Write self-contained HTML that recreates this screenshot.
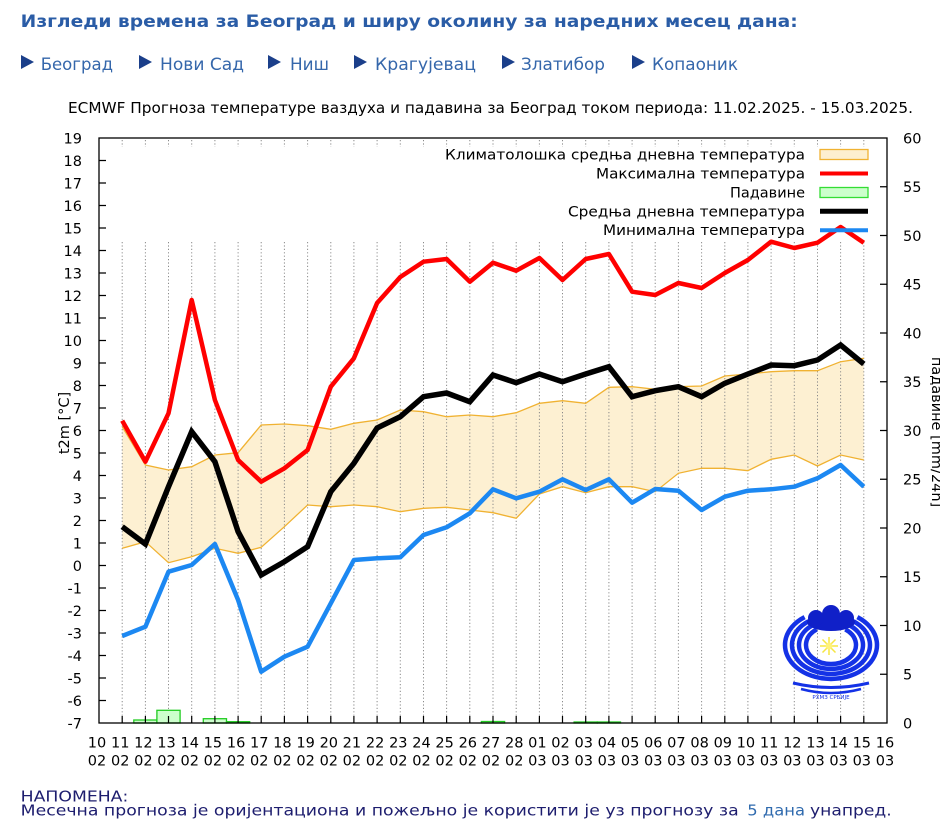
<!DOCTYPE html>
<html><head><meta charset="utf-8">
<style>
html,body{margin:0;padding:0;background:#fff;}
body{width:940px;height:836px;overflow:hidden;}
svg{display:block;}
text{font-family:"DejaVu Sans","Liberation Sans",sans-serif;}
</style></head>
<body>
<svg width="940" height="836" viewBox="0 0 940 836" xmlns="http://www.w3.org/2000/svg">
<rect x="0" y="0" width="940" height="836" fill="#fff"/>

<!-- Header -->
<text x="20.7" y="27" font-size="17" font-weight="bold" fill="#2a5ca6" textLength="777" lengthAdjust="spacingAndGlyphs">Изгледи времена за Београд и ширу околину за наредних месец дана:</text>

<g fill="#1b3f8a">
<polygon points="21,55 34,62 21,69"/>
<polygon points="139,55 152,62 139,69"/>
<polygon points="268,55 281,62 268,69"/>
<polygon points="354,55 367,62 354,69"/>
<polygon points="502,55 515,62 502,69"/>
<polygon points="632,55 645,62 632,69"/>
</g>
<g font-size="17" fill="#3567ab">
<text x="40.7" y="70" textLength="72.3" lengthAdjust="spacingAndGlyphs">Београд</text>
<text x="160" y="70" textLength="84" lengthAdjust="spacingAndGlyphs">Нови Сад</text>
<text x="290" y="70" textLength="39" lengthAdjust="spacingAndGlyphs">Ниш</text>
<text x="375" y="70" textLength="101" lengthAdjust="spacingAndGlyphs">Крагујевац</text>
<text x="521" y="70" textLength="84" lengthAdjust="spacingAndGlyphs">Златибор</text>
<text x="652" y="70" textLength="86" lengthAdjust="spacingAndGlyphs">Копаоник</text>
</g>

<!-- Chart title -->
<text x="68" y="113" font-size="15" fill="#000" textLength="845" lengthAdjust="spacingAndGlyphs">ECMWF Прогноза температуре ваздуха и падавина за Београд током периода: 11.02.2025. - 15.03.2025.</text>

<!-- Climatology band fill -->
<polygon fill="#fdf0d2" stroke="none" points="122.2,426.7 145.4,465 168.5,470 191.7,466.7 214.9,455 238.1,452.7 261.2,425 284.4,424 307.6,425.7 330.8,429.3 353.9,423.3 377.1,420 400.3,410 423.5,411.7 446.6,416.7 469.8,415 493,416.7 516.2,412.7 539.4,403.3 562.5,400.7 585.7,403.3 608.9,387.3 632.1,386.7 655.2,389.3 678.4,386.7 701.6,386 724.8,376 747.9,374 771.1,371.7 794.3,370.7 817.5,370.7 840.6,361.7 863.8,358.3 863.8,460 840.6,455 817.5,466 794.3,455 771.1,459.3 747.9,470.7 724.8,468.3 701.6,468.3 678.4,473.3 655.2,491.7 632.1,486.7 608.9,486.7 585.7,492.7 562.5,486.7 539.4,494 516.2,518.3 493,512.7 469.8,510 446.6,507.3 423.5,508.3 400.3,511.7 377.1,506.7 353.9,505 330.8,506.7 307.6,505 284.4,526.7 261.2,547.3 238.1,553.3 214.9,548.3 191.7,556.7 168.5,562.7 145.4,541.7 122.2,548.3"/>

<!-- Grid -->
<path stroke="#8a8a8a" stroke-width="1" stroke-dasharray="1.2,2.2" fill="none" d="M122.2 242V723M145.4 242V723M168.5 242V723M191.7 242V723M214.9 242V723M238.1 242V723M261.2 242V723M284.4 242V723M307.6 242V723M330.8 242V723M353.9 242V723M377.1 242V723M400.3 242V723M423.5 242V723M446.6 242V723M469.8 242V723M493 242V723M516.2 242V723M539.4 242V723M562.5 242V723M585.7 242V723M608.9 242V723M632.1 242V723M655.2 242V723M678.4 242V723M701.6 242V723M724.8 242V723M747.9 242V723M771.1 242V723M794.3 242V723M817.5 242V723M840.6 242V723M863.8 242V723"/>
<path stroke="#8a8a8a" stroke-width="1" stroke-dasharray="1.2,2.2" fill="none" d="M122.2 140V147M145.4 140V147M168.5 140V147M191.7 140V147M214.9 140V147M238.1 140V147M261.2 140V147M284.4 140V147M307.6 140V147M330.8 140V147M353.9 140V147M377.1 140V147M400.3 140V147M423.5 140V147M446.6 140V147M469.8 140V147M493 140V147M516.2 140V147M539.4 140V147M562.5 140V147M585.7 140V147M608.9 140V147M632.1 140V147M655.2 140V147M678.4 140V147M701.6 140V147M724.8 140V147M747.9 140V147M771.1 140V147M794.3 140V147M817.5 140V147M840.6 140V147M863.8 140V147"/>

<!-- Band edges -->
<polyline fill="none" stroke="#f0b232" stroke-width="1.3" points="122.2,426.7 145.4,465 168.5,470 191.7,466.7 214.9,455 238.1,452.7 261.2,425 284.4,424 307.6,425.7 330.8,429.3 353.9,423.3 377.1,420 400.3,410 423.5,411.7 446.6,416.7 469.8,415 493,416.7 516.2,412.7 539.4,403.3 562.5,400.7 585.7,403.3 608.9,387.3 632.1,386.7 655.2,389.3 678.4,386.7 701.6,386 724.8,376 747.9,374 771.1,371.7 794.3,370.7 817.5,370.7 840.6,361.7 863.8,358.3"/>
<polyline fill="none" stroke="#f0b232" stroke-width="1.3" points="122.2,548.3 145.4,541.7 168.5,562.7 191.7,556.7 214.9,548.3 238.1,553.3 261.2,547.3 284.4,526.7 307.6,505 330.8,506.7 353.9,505 377.1,506.7 400.3,511.7 423.5,508.3 446.6,507.3 469.8,510 493,512.7 516.2,518.3 539.4,494 562.5,486.7 585.7,492.7 608.9,486.7 632.1,486.7 655.2,491.7 678.4,473.3 701.6,468.3 724.8,468.3 747.9,470.7 771.1,459.3 794.3,455 817.5,466 840.6,455 863.8,460"/>

<!-- Logo -->
<g fill="none" stroke="#1432e6" stroke-width="4.5">
<path d="M804.6 617.1 A46 34 0 1 0 857.4 617.1"/>
<path d="M808.6 621.2 A39 29 0 1 0 853.4 621.2"/>
<path d="M812.6 625.3 A32 24 0 1 0 849.4 625.3"/>
<path d="M816.7 629.4 A25 19 0 1 0 845.3 629.4"/>
<path d="M793 683 Q831 692 869 683" stroke-width="3"/>
<path d="M801 689 Q831 697 861 689" stroke-width="2.5"/>
</g>
<g fill="#1020c8">
<ellipse cx="831" cy="622" rx="24" ry="9"/>
<circle cx="816" cy="618" r="8"/>
<circle cx="831" cy="614" r="9"/>
<circle cx="846" cy="618" r="8"/>
</g>
<g stroke="#f5e640" stroke-width="1.5">
<path d="M820 646H838M829 637V655M822.5 639.5L835.5 652.5M835.5 639.5L822.5 652.5"/>
</g>
<circle cx="829" cy="646" r="3.5" fill="#fff27a"/>
<text x="831" y="699" font-size="5.5" fill="#1432e6" text-anchor="middle">РХМЗ СРБИЈЕ</text>

<!-- Precipitation bars -->
<g fill="#ccffcc" stroke="#22cc22" stroke-width="1.3">
<rect x="133.8" y="720" width="23.2" height="3"/>
<rect x="156.9" y="710.3" width="23.2" height="12.7"/>
<rect x="203.3" y="718.7" width="23.2" height="4.3"/>
<rect x="226.5" y="721.7" width="23.2" height="1.3"/>
<rect x="481.4" y="721.5" width="23.2" height="1.5"/>
<rect x="574.1" y="722" width="23.2" height="1"/>
<rect x="597.3" y="722" width="23.2" height="1"/>
</g>

<!-- Max temp -->
<polyline fill="none" stroke="#ff0000" stroke-width="4.5" stroke-linejoin="round" points="122.2,420.7 145.4,461.7 168.5,413.3 191.7,300 214.9,400 238.1,460 261.2,481.7 284.4,468.3 307.6,450 330.8,386.7 353.9,358.3 377.1,303 400.3,277 423.5,261.7 446.6,259 469.8,281.7 493,262.7 516.2,270.7 539.4,258 562.5,280 585.7,259 608.9,254 632.1,291.7 655.2,295 678.4,283 701.6,288 724.8,273 747.9,260 771.1,241.7 794.3,248 817.5,242.7 840.6,227 863.8,242.7"/>

<!-- Mean temp -->
<polyline fill="none" stroke="#000000" stroke-width="5.5" stroke-linejoin="miter" points="122.2,526.7 145.4,544 168.5,486.7 191.7,431.7 214.9,461.7 238.1,531.7 261.2,575 284.4,561.7 307.6,546.7 330.8,491.7 353.9,463.3 377.1,428 400.3,416.7 423.5,396.7 446.6,393 469.8,401.7 493,375 516.2,382.7 539.4,374 562.5,381.7 585.7,374 608.9,366.7 632.1,396.7 655.2,390.7 678.4,386.7 701.6,396.7 724.8,383.3 747.9,374 771.1,365 794.3,365.7 817.5,360 840.6,345 863.8,364"/>

<!-- Min temp -->
<polyline fill="none" stroke="#1c88f2" stroke-width="4.5" stroke-linejoin="round" points="122.2,636 145.4,626.7 168.5,571.7 191.7,565 214.9,544 238.1,600 261.2,671.7 284.4,656.7 307.6,646.7 330.8,603.3 353.9,560 377.1,558.3 400.3,557.3 423.5,535 446.6,527.3 469.8,513.3 493,489.3 516.2,498.3 539.4,491.7 562.5,479.3 585.7,490 608.9,479.3 632.1,502.7 655.2,489 678.4,490.7 701.6,510 724.8,496.7 747.9,490.7 771.1,489.3 794.3,486.7 817.5,478.3 840.6,465 863.8,486.7"/>

<!-- Legend -->
<g font-size="14.5" fill="#000">
<text x="445" y="159.5" textLength="360" lengthAdjust="spacingAndGlyphs">Климатолошка средња дневна температура</text>
<text x="596" y="178.5" textLength="209" lengthAdjust="spacingAndGlyphs">Максимална температура</text>
<text x="730" y="197.5" textLength="75" lengthAdjust="spacingAndGlyphs">Падавине</text>
<text x="568" y="216.3" textLength="237" lengthAdjust="spacingAndGlyphs">Средња дневна температура</text>
<text x="603" y="235.2" textLength="202" lengthAdjust="spacingAndGlyphs">Минимална температура</text>
</g>
<rect x="820" y="149.5" width="48" height="10" fill="#fdefcf" stroke="#f0b232" stroke-width="1.3"/>
<line x1="820" y1="173.5" x2="868" y2="173.5" stroke="#ff0000" stroke-width="4"/>
<rect x="820" y="187.5" width="48" height="10" fill="#ccffcc" stroke="#33dd33" stroke-width="1.3"/>
<line x1="820" y1="211.3" x2="868" y2="211.3" stroke="#000" stroke-width="5"/>
<line x1="820" y1="230.3" x2="868" y2="230.3" stroke="#1c88f2" stroke-width="4"/>

<!-- Frame -->
<rect x="99" y="138" width="788" height="585" fill="none" stroke="#000" stroke-width="1.3"/>

<!-- Left ticks -->
<path stroke="#000" stroke-width="1.2" d="M99 160.5H106M99 183H106M99 205.5H106M99 228H106M99 250.5H106M99 273H106M99 295.5H106M99 318H106M99 340.5H106M99 363H106M99 385.5H106M99 408H106M99 430.5H106M99 453H106M99 475.5H106M99 498H106M99 520.5H106M99 543H106M99 565.5H106M99 588H106M99 610.5H106M99 633H106M99 655.5H106M99 678H106M99 700.5H106"/>
<!-- Right ticks -->
<path stroke="#000" stroke-width="1.2" d="M887 674.25H880M887 625.5H880M887 576.75H880M887 528H880M887 479.25H880M887 430.5H880M887 381.75H880M887 333H880M887 284.25H880M887 235.5H880M887 186.75H880"/>
<!-- Bottom ticks -->
<path stroke="#000" stroke-width="1.2" d="M122.2 723V716M145.4 723V716M168.5 723V716M191.7 723V716M214.9 723V716M238.1 723V716M261.2 723V716M284.4 723V716M307.6 723V716M330.8 723V716M353.9 723V716M377.1 723V716M400.3 723V716M423.5 723V716M446.6 723V716M469.8 723V716M493 723V716M516.2 723V716M539.4 723V716M562.5 723V716M585.7 723V716M608.9 723V716M632.1 723V716M655.2 723V716M678.4 723V716M701.6 723V716M724.8 723V716M747.9 723V716M771.1 723V716M794.3 723V716M817.5 723V716M840.6 723V716M863.8 723V716"/>

<!-- Left axis labels -->
<g font-size="14.5" fill="#000" text-anchor="end">
<text x="82" y="143.3">19</text>
<text x="82" y="165.8">18</text>
<text x="82" y="188.3">17</text>
<text x="82" y="210.8">16</text>
<text x="82" y="233.3">15</text>
<text x="82" y="255.8">14</text>
<text x="82" y="278.3">13</text>
<text x="82" y="300.8">12</text>
<text x="82" y="323.3">11</text>
<text x="82" y="345.8">10</text>
<text x="82" y="368.3">9</text>
<text x="82" y="390.8">8</text>
<text x="82" y="413.3">7</text>
<text x="82" y="435.8">6</text>
<text x="82" y="458.3">5</text>
<text x="82" y="480.8">4</text>
<text x="82" y="503.3">3</text>
<text x="82" y="525.8">2</text>
<text x="82" y="548.3">1</text>
<text x="82" y="570.8">0</text>
<text x="82" y="593.3">-1</text>
<text x="82" y="615.8">-2</text>
<text x="82" y="638.3">-3</text>
<text x="82" y="660.8">-4</text>
<text x="82" y="683.3">-5</text>
<text x="82" y="705.8">-6</text>
<text x="82" y="728.3">-7</text>
</g>

<!-- Right axis labels -->
<g font-size="14.5" fill="#000">
<text x="903" y="143.3">60</text>
<text x="903" y="192">55</text>
<text x="903" y="240.8">50</text>
<text x="903" y="289.5">45</text>
<text x="903" y="338.3">40</text>
<text x="903" y="387">35</text>
<text x="903" y="435.8">30</text>
<text x="903" y="484.5">25</text>
<text x="903" y="533.3">20</text>
<text x="903" y="582">15</text>
<text x="903" y="630.8">10</text>
<text x="903" y="679.5">5</text>
<text x="903" y="728.3">0</text>
</g>

<!-- Axis titles -->
<text transform="translate(69,423) rotate(-90)" font-size="14.5" text-anchor="middle" fill="#000">t2m [°C]</text>
<text transform="translate(932,432) rotate(90)" font-size="14.5" text-anchor="middle" fill="#000">падавине [mm/24h]</text>

<!-- X labels -->
<g font-size="14.5" fill="#000" text-anchor="middle">
<text x="97" y="747.3">10</text><text x="97" y="765.7">02</text>
<text x="120.2" y="747.3">11</text><text x="120.2" y="765.7">02</text>
<text x="143.4" y="747.3">12</text><text x="143.4" y="765.7">02</text>
<text x="166.5" y="747.3">13</text><text x="166.5" y="765.7">02</text>
<text x="189.7" y="747.3">14</text><text x="189.7" y="765.7">02</text>
<text x="212.9" y="747.3">15</text><text x="212.9" y="765.7">02</text>
<text x="236.1" y="747.3">16</text><text x="236.1" y="765.7">02</text>
<text x="259.2" y="747.3">17</text><text x="259.2" y="765.7">02</text>
<text x="282.4" y="747.3">18</text><text x="282.4" y="765.7">02</text>
<text x="305.6" y="747.3">19</text><text x="305.6" y="765.7">02</text>
<text x="328.8" y="747.3">20</text><text x="328.8" y="765.7">02</text>
<text x="351.9" y="747.3">21</text><text x="351.9" y="765.7">02</text>
<text x="375.1" y="747.3">22</text><text x="375.1" y="765.7">02</text>
<text x="398.3" y="747.3">23</text><text x="398.3" y="765.7">02</text>
<text x="421.5" y="747.3">24</text><text x="421.5" y="765.7">02</text>
<text x="444.6" y="747.3">25</text><text x="444.6" y="765.7">02</text>
<text x="467.8" y="747.3">26</text><text x="467.8" y="765.7">02</text>
<text x="491" y="747.3">27</text><text x="491" y="765.7">02</text>
<text x="514.2" y="747.3">28</text><text x="514.2" y="765.7">02</text>
<text x="537.4" y="747.3">01</text><text x="537.4" y="765.7">03</text>
<text x="560.5" y="747.3">02</text><text x="560.5" y="765.7">03</text>
<text x="583.7" y="747.3">03</text><text x="583.7" y="765.7">03</text>
<text x="606.9" y="747.3">04</text><text x="606.9" y="765.7">03</text>
<text x="630.1" y="747.3">05</text><text x="630.1" y="765.7">03</text>
<text x="653.2" y="747.3">06</text><text x="653.2" y="765.7">03</text>
<text x="676.4" y="747.3">07</text><text x="676.4" y="765.7">03</text>
<text x="699.6" y="747.3">08</text><text x="699.6" y="765.7">03</text>
<text x="722.8" y="747.3">09</text><text x="722.8" y="765.7">03</text>
<text x="745.9" y="747.3">10</text><text x="745.9" y="765.7">03</text>
<text x="769.1" y="747.3">11</text><text x="769.1" y="765.7">03</text>
<text x="792.3" y="747.3">12</text><text x="792.3" y="765.7">03</text>
<text x="815.5" y="747.3">13</text><text x="815.5" y="765.7">03</text>
<text x="838.6" y="747.3">14</text><text x="838.6" y="765.7">03</text>
<text x="861.8" y="747.3">15</text><text x="861.8" y="765.7">03</text>
<text x="885" y="747.3">16</text><text x="885" y="765.7">03</text>
</g>

<!-- Note -->
<text x="20.7" y="801.7" font-size="15" fill="#1d1d6e" textLength="107.6" lengthAdjust="spacingAndGlyphs">НАПОМЕНА:</text>
<text x="20.7" y="815.7" font-size="15" fill="#1d1d6e" textLength="718" lengthAdjust="spacingAndGlyphs">Месечна прогноза је оријентациона и пожељно је користити је уз прогнозу за</text>
<text x="747.3" y="815.7" font-size="15" fill="#2f6aae" textLength="57.7" lengthAdjust="spacingAndGlyphs">5 дана</text>
<text x="810" y="815.7" font-size="15" fill="#1d1d6e" textLength="81.7" lengthAdjust="spacingAndGlyphs">унапред.</text>
</svg>
</body></html>
